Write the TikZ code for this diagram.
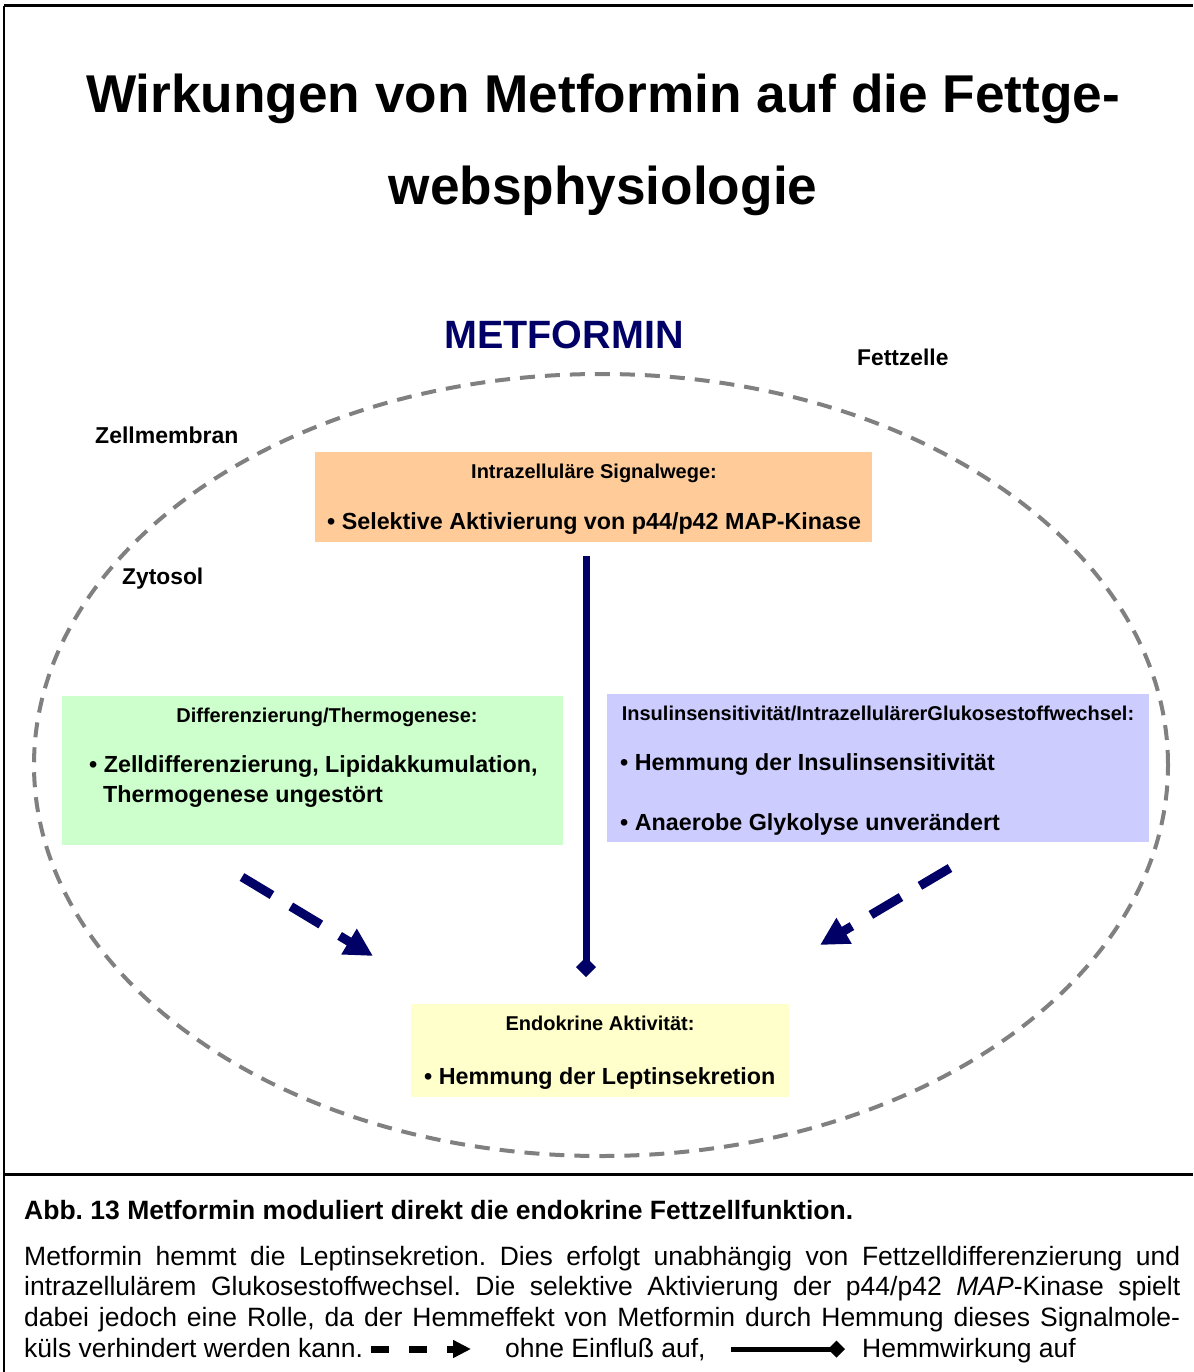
\documentclass[tikz,border=0pt]{standalone}
\usepackage{fontspec}
\setmainfont{Liberation Sans}
\usetikzlibrary{arrows.meta,positioning}
\frenchspacing

\definecolor{navy}{RGB}{0,0,102}
\definecolor{grau}{RGB}{128,128,128}
\definecolor{orangebox}{RGB}{255,204,153}
\definecolor{gruenbox}{RGB}{204,255,204}
\definecolor{blaubox}{RGB}{204,204,255}
\definecolor{gelbbox}{RGB}{255,255,204}

\newcommand{\fsz}[1]{\fontsize{#1}{1.15\dimexpr#1pt\relax}\selectfont}

\begin{document}
\begin{tikzpicture}[x=1pt,y=-1pt,
    txt/.style={inner sep=0pt,anchor=base west},
    box/.style={inner sep=0pt,anchor=north west},
    boxtitel/.style={inner sep=0pt,anchor=base,font=\fsz{20}\bfseries},
    punkt/.style={inner sep=0pt,anchor=base west,font=\fsz{23.3}\bfseries},
    ohne/.style={line width=9pt,navy,dash pattern=on 35pt off 22pt,
      -{Triangle[length=28pt,width=28pt]}},
    hemm/.style={line width=7pt,navy,-{Diamond[length=20pt,width=20pt]}}]
  \useasboundingbox (0,0) rectangle (1193,1372);

  % Rahmen und Trennlinie
  \draw[line width=3pt] (4,6) -- (1193,6);
  \draw[line width=2pt] (4,6) -- (4,1372);
  \draw[line width=3pt] (4,1174) -- (1193,1174);

  % Ueberschrift
  \node[inner sep=0pt,anchor=base,font=\fsz{53.2}\bfseries] (titel1) at (603,113)
    {Wirkungen von Metformin auf die Fettge-};
  \node[inner sep=0pt,anchor=base,font=\fsz{53.2}\bfseries] (titel2) at (603,205)
    {websphysiologie};

  % Metformin und Beschriftungen
  \node[inner sep=0pt,anchor=base,font=\fsz{39.5}\bfseries,navy] (metformin) at (564,348) {METFORMIN};
  \node[txt,font=\fsz{22.8}\bfseries] (fettzelle) at (857,365) {Fettzelle};
  \node[txt,font=\fsz{23}\bfseries] (membran) at (95,443) {Zellmembran};
  \node[txt,font=\fsz{22.8}\bfseries] (zytosol) at (122,584) {Zytosol};

  % Zelle (gestrichelte Membran)
  \draw[grau,line width=4pt,dash pattern=on 15pt off 10pt] (601,765) ellipse [x radius=567pt, y radius=391pt];

  % Intrazellulaere Signalwege (orange)
  \node[box,fill=orangebox,minimum width=557pt,minimum height=90pt] (signal) at (315,452) {};
  \node[boxtitel] (signalT) at (594,478) {Intrazelluläre Signalwege:};
  \node[punkt] (signalP) at (327,529) {• Selektive Aktivierung von p44/p42 MAP-Kinase};

  % Differenzierung (gruen)
  \node[box,fill=gruenbox,minimum width=501pt,minimum height=149pt] (diff) at (62,696) {};
  \node[boxtitel] (diffT) at (327,722) {Differenzierung/Thermogenese:};
  \node[punkt] (diffP1) at (89,772) {• Zelldifferenzierung, Lipidakkumulation,};
  \node[punkt] (diffP2) at (103,802) {Thermogenese ungestört};

  % Insulinsensitivitaet (blau)
  \node[box,fill=blaubox,minimum width=542pt,minimum height=148pt] (insulin) at (607,694) {};
  \node[boxtitel] (insulinT) at (878,720) {Insulinsensitivität/IntrazellulärerGlukosestoffwechsel:};
  \node[punkt] (insulinP1) at (620,770) {• Hemmung der Insulinsensitivität};
  \node[punkt] (insulinP2) at (620,830) {• Anaerobe Glykolyse unverändert};

  % Endokrine Aktivitaet (gelb)
  \node[box,fill=gelbbox,minimum width=378pt,minimum height=93pt] (endo) at (411,1004) {};
  \node[boxtitel] (endoT) at (600,1030) {Endokrine Aktivität:};
  \node[punkt] (endoP) at (424,1084) {• Hemmung der Leptinsekretion};

  % Pfeile
  \coordinate (linie) at (586,0);
  \draw[hemm,shorten <=14pt,shorten >=27pt] (signal.south -| linie) -- (endo.north -| linie);
  \coordinate (linksA) at (242,877);
  \coordinate (linksB) at (373,956);
  \draw[ohne] (linksA) -- (linksB);
  \coordinate (rechtsA) at (950,868);
  \coordinate (rechtsB) at (820,945);
  \draw[ohne] (rechtsA) -- (rechtsB);

  % Legende / Bildunterschrift
  \node[txt,font=\fsz{26.5}\bfseries] (abb) at (24,1219)
    {Abb. 13 Metformin moduliert direkt die endokrine Fettzellfunktion.};
  \node[txt,font=\fsz{26.5}] (zeile1) at (24,1265)
    {\makebox[1156pt][s]{Metformin hemmt die Leptinsekretion. Dies erfolgt unabhängig von Fettzelldifferenzierung und}};
  \node[txt,font=\fsz{26.5}] (zeile2) at (24,1295)
    {\makebox[1156pt][s]{intrazellulärem Glukosestoffwechsel. Die selektive Aktivierung der p44/p42 \textit{MAP}-Kinase spielt}};
  \node[txt,font=\fsz{26.5}] (zeile3) at (24,1326)
    {\makebox[1156pt][s]{dabei jedoch eine Rolle, da der Hemmeffekt von Metformin durch Hemmung dieses Signalmole-}};
  \node[txt,font=\fsz{26.5}] (zeile4) at (24,1357) {küls verhindert werden kann.};
  \coordinate (legA) at (371,1349);
  \coordinate (legB) at (471,1349);
  \draw[line width=7pt,dash pattern=on 18pt off 20pt,-{Triangle[length=18pt,width=17pt]}] (legA) -- (legB);
  \node[txt,font=\fsz{26.5}] (ohneT) at (505,1357) {ohne Einfluß auf,};
  \coordinate (legC) at (731,1349);
  \coordinate (legD) at (845,1349);
  \draw[line width=5pt,-{Diamond[length=17pt,width=17pt]}] (legC) -- (legD);
  \node[txt,font=\fsz{26.5}] (hemmT) at (862,1357) {Hemmwirkung auf};
\end{tikzpicture}
\end{document}
